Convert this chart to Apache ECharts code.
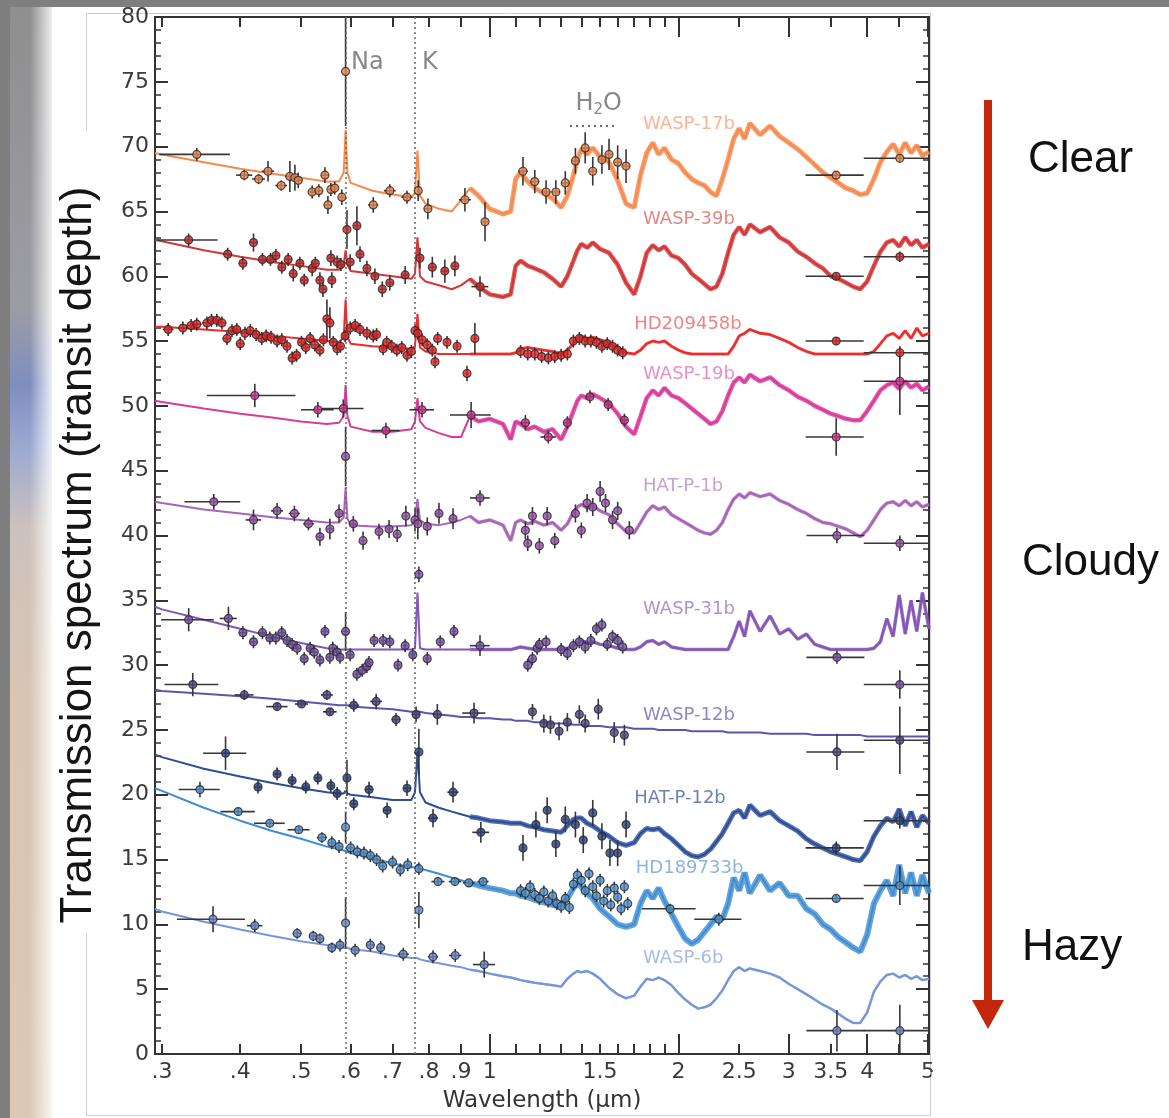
<!DOCTYPE html>
<html>
<head>
<meta charset="utf-8">
<script src="https://cdn.jsdelivr.net/npm/echarts@6.0.0/dist/echarts.min.js"></script>
<style>
  html, body { margin: 0; padding: 0; background: #ffffff; }
  #chart { width: 1169px; height: 1118px; }
</style>
</head>
<body>
<div id="chart"></div>
<script>
// ---------------------------------------------------------------
// Wavelength grid (µm) shared by every model transmission spectrum
// ---------------------------------------------------------------
const modelWave = [
  0.2925, 0.30, 0.35, 0.40, 0.45, 0.50, 0.55, 0.575, 0.585, 0.589, 0.593,
  0.60, 0.65, 0.70, 0.75, 0.76, 0.767, 0.774, 0.79, 0.83, 0.87, 0.90,
  0.93, 0.96, 1.00, 1.05, 1.08, 1.10, 1.12, 1.15, 1.18, 1.22, 1.26,
  1.30, 1.33, 1.36, 1.38, 1.40, 1.43, 1.46, 1.50, 1.55, 1.60, 1.65,
  1.70, 1.74, 1.78, 1.82, 1.86, 1.90, 1.95, 2.00, 2.05, 2.10, 2.15,
  2.20, 2.25, 2.30, 2.35, 2.40, 2.45, 2.50, 2.55, 2.60, 2.70, 2.80,
  2.90, 3.00, 3.10, 3.20, 3.30, 3.40, 3.50, 3.60, 3.70, 3.80, 3.90,
  4.00, 4.10, 4.20, 4.30, 4.40, 4.50, 4.60, 4.70, 4.80, 4.90, 5.02
];

// Model spectra (offset transit depth), one value per modelWave entry
const wasp17bModel = [
  69.5, 69.4, 68.8, 68.3, 67.9, 67.6, 67.3, 67.3, 68.0, 71.3, 68.0,
  67.2, 66.6, 66.3, 66.1, 66.4, 69.7, 66.2, 65.6, 65.2, 65.0, 65.9,
  66.8, 66.2, 65.2, 64.8, 65.0, 67.5, 68.0, 67.3, 66.8, 66.4, 66.0,
  65.3, 66.2, 67.8, 69.0, 69.8, 69.4, 69.9, 69.2, 68.8, 67.4, 65.6,
  65.3, 67.8, 69.5, 70.3, 69.4, 69.9, 69.0, 68.7, 68.0, 67.5, 67.2,
  67.0, 66.5, 66.2, 67.5, 69.0, 70.6, 71.4, 70.6, 71.8, 70.9, 71.6,
  70.8, 70.3, 69.8, 69.2, 68.6, 68.0, 67.6, 67.2, 66.8, 66.6, 66.3,
  66.4, 67.5, 68.8, 69.6, 70.2, 69.4, 70.3, 69.5, 70.1, 69.3, 69.6
];
const wasp39bModel = [
  62.8, 62.7, 62.0, 61.5, 61.1, 60.8, 60.5, 60.5, 60.9, 62.0, 60.9,
  60.4, 60.2, 60.0, 59.8, 60.2, 63.0, 60.0, 59.6, 59.3, 59.0, 59.3,
  59.8, 59.2, 58.6, 58.4, 58.6, 60.8, 61.2, 60.8, 60.6, 60.3, 59.8,
  59.2, 60.0, 61.2, 62.0, 62.5, 62.2, 62.6, 62.1, 61.8, 60.9, 59.5,
  58.6, 60.0, 61.8, 62.4, 62.0, 62.3, 61.6, 61.4, 60.9, 60.2, 59.8,
  59.4, 59.0, 59.2, 60.2, 61.8, 63.2, 63.8, 63.2, 64.0, 63.4, 63.8,
  63.0, 62.6, 61.9, 61.5, 61.0, 60.6, 60.0, 59.8, 59.5, 59.2, 59.0,
  59.6, 60.8, 61.9, 62.6, 62.8, 62.3, 63.0, 62.4, 62.8, 62.2, 62.5
];
const hd209458bModel = [
  56.1, 56.1, 55.9, 55.7, 55.4, 55.2, 55.0, 54.9, 55.3, 58.2, 55.3,
  54.8, 54.6, 54.5, 54.4, 54.6, 57.1, 54.5, 54.2, 54.0, 54.0, 54.0,
  54.0, 54.0, 54.0, 54.0, 54.0, 54.1, 54.4, 54.5, 54.4, 54.3, 54.2,
  54.0, 54.3, 54.8, 55.2, 55.4, 55.2, 55.3, 55.1, 54.9, 54.5, 54.1,
  54.0, 54.3, 54.8, 55.0, 54.9, 55.0, 54.6, 54.3, 54.1, 54.0, 54.0,
  54.0, 54.0, 54.0, 54.0, 54.0, 54.6, 55.4, 55.6, 55.9, 55.6, 55.5,
  55.2, 54.9, 54.5, 54.2, 54.0, 54.0, 54.0, 54.0, 54.0, 54.0, 54.0,
  54.0, 54.2, 54.8, 55.4, 55.6, 55.2, 55.8, 55.2, 56.0, 55.4, 55.6
];
const wasp19bModel = [
  50.4, 50.3, 49.8, 49.4, 49.1, 48.8, 48.6, 48.7, 49.2, 51.6, 49.2,
  48.4, 48.0, 48.0, 48.2, 48.8, 50.6, 48.8, 48.3, 47.9, 47.6, 47.6,
  49.2, 48.8, 49.0, 48.6, 47.4, 48.8, 48.6, 48.2, 48.4, 48.0, 48.2,
  47.4, 48.4, 49.6, 50.4, 50.8, 50.6, 50.9, 50.6, 50.2, 49.4, 48.4,
  47.8, 49.2, 50.6, 51.2, 50.8, 51.4, 50.8, 50.6, 50.2, 49.8, 49.4,
  49.0, 48.6, 48.8, 49.6, 50.8, 51.8, 52.2, 51.8, 52.4, 51.9, 52.2,
  51.6, 51.2, 50.7, 50.4, 50.0, 49.7, 49.4, 49.2, 49.0, 48.9, 48.9,
  49.6, 50.4, 51.2, 51.6, 51.8, 51.3, 51.9, 51.4, 51.7, 51.2, 51.5
];
const hatp1bModel = [
  42.6, 42.5, 42.0, 41.7, 41.4, 41.2, 41.0, 41.0, 41.4, 43.7, 41.3,
  40.8, 40.7, 40.7, 40.8, 41.2, 42.8, 41.2, 40.9, 40.8, 41.0, 41.2,
  41.5, 41.0, 41.2, 40.8, 39.6, 41.0, 41.2, 40.9, 41.1, 40.8, 41.0,
  40.4, 40.9, 41.8, 42.2, 42.4, 42.1, 42.3, 41.9, 41.6, 40.9, 40.3,
  40.2, 41.0, 41.8, 42.3, 42.0, 42.2, 41.6, 41.3, 41.0, 40.7, 40.4,
  40.2, 40.1, 40.4, 41.0, 42.0, 42.8, 43.2, 42.9, 43.3, 43.0, 43.2,
  42.7, 42.4, 42.0, 41.7, 41.3, 41.0, 40.9, 40.7, 40.5, 40.2, 39.9,
  40.4, 41.2, 42.0, 42.5, 42.6, 42.3, 42.7, 42.3, 42.6, 42.2, 42.4
];
const wasp31bModel = [
  34.5, 34.3, 33.5, 32.8, 32.2, 31.7, 31.3, 31.2, 31.2, 31.2, 31.2,
  31.2, 31.2, 31.2, 31.2, 31.3, 35.6, 31.3, 31.2, 31.2, 31.2, 31.2,
  31.2, 31.2, 31.2, 31.2, 31.2, 31.3, 31.4, 31.3, 31.2, 31.2, 31.2,
  31.2, 31.3, 31.5, 31.7, 31.9, 31.7, 31.8, 31.6, 31.5, 31.3, 31.2,
  31.2, 31.4, 31.8, 31.9, 31.6, 31.8, 31.4, 31.3, 31.2, 31.2, 31.2,
  31.2, 31.2, 31.2, 31.2, 31.2, 32.2, 33.4, 32.2, 34.2, 32.6, 33.8,
  32.4, 32.8, 32.0, 32.4, 31.6, 31.4, 31.2, 31.2, 31.2, 31.2, 31.2,
  31.2, 31.3, 31.8, 33.6, 32.2, 35.4, 32.4, 35.0, 32.6, 35.6, 32.8
];
const wasp12bModel = [
  28.1, 28.0, 27.8, 27.6, 27.4, 27.2, 27.0, 26.9, 26.9, 26.9, 26.9,
  26.8, 26.7, 26.6, 26.4, 26.4, 26.4, 26.4, 26.3, 26.2, 26.1, 26.0,
  26.0, 25.9, 25.9, 25.8, 25.8, 25.7, 25.7, 25.7, 25.6, 25.6, 25.5,
  25.5, 25.5, 25.4, 25.4, 25.4, 25.3, 25.3, 25.3, 25.2, 25.2, 25.2,
  25.1, 25.1, 25.1, 25.1, 25.0, 25.0, 25.0, 25.0, 25.0, 24.9, 24.9,
  24.9, 24.9, 24.9, 24.9, 24.8, 24.8, 24.8, 24.8, 24.8, 24.8, 24.7,
  24.7, 24.7, 24.7, 24.7, 24.6, 24.6, 24.6, 24.6, 24.6, 24.6, 24.6,
  24.5, 24.5, 24.5, 24.5, 24.5, 24.5, 24.5, 24.5, 24.5, 24.5, 24.5
];
const hatp12bModel = [
  23.1, 22.9, 22.0, 21.4, 20.9, 20.5, 20.2, 20.1, 20.1, 20.3, 20.1,
  20.0, 19.8, 19.6, 19.6, 20.2, 23.3, 20.2, 19.4, 19.0, 18.7, 18.5,
  18.3, 18.2, 18.0, 17.9, 17.8, 17.8, 17.8, 17.6, 17.5, 17.3, 17.2,
  17.1, 17.6, 18.1, 18.2, 18.2, 17.8, 17.6, 17.2, 16.8, 16.3, 16.1,
  16.3, 17.0, 17.4, 17.3, 17.4, 17.0, 16.6, 16.1, 15.6, 15.3, 15.2,
  15.4, 15.8, 16.4, 17.0, 17.8, 18.6, 18.8, 18.2, 19.2, 18.4, 18.7,
  18.0, 17.6, 17.2, 16.6, 16.2, 15.9, 15.6, 15.4, 15.2, 15.0, 14.9,
  15.6, 16.8, 17.6, 18.2, 17.9, 18.9, 17.6, 18.7, 17.5, 18.4, 17.8
];
const hd189733bModel = [
  20.5, 20.3, 19.0, 18.0, 17.2, 16.6, 16.0, 15.8, 15.7, 15.8, 15.6,
  15.5, 15.1, 14.7, 14.4, 14.4, 14.6, 14.3, 14.2, 13.9, 13.6, 13.4,
  13.2, 13.0, 12.8, 12.6, 12.4, 12.4, 12.2, 12.1, 11.9, 11.7, 11.5,
  11.4, 12.0, 12.8, 13.2, 12.9, 12.4, 12.0, 11.2, 10.6, 10.0, 9.8,
  10.0, 11.6, 12.6, 12.0, 12.8, 11.8, 10.8, 9.8, 8.9, 8.5, 8.8,
  9.4, 10.0, 10.6, 10.4, 11.6, 13.6, 12.6, 14.0, 12.4, 13.8, 12.6,
  13.2, 12.2, 12.2, 11.2, 10.8, 10.0, 9.6, 9.0, 8.6, 8.2, 7.9,
  9.2, 11.6, 12.6, 13.4, 12.2, 14.6, 12.4, 14.0, 12.2, 13.8, 12.4
];
const wasp6bModel = [
  11.2, 11.0, 10.2, 9.6, 9.1, 8.7, 8.4, 8.3, 8.2, 8.2, 8.2,
  8.1, 7.9, 7.6, 7.4, 7.4, 7.4, 7.3, 7.2, 7.0, 6.8, 6.7,
  6.5, 6.4, 6.2, 6.0, 5.9, 5.8, 5.7, 5.6, 5.5, 5.4, 5.3,
  5.2, 5.8, 6.2, 6.4, 6.3, 6.4, 6.2, 5.8, 5.1, 4.6, 4.3,
  4.5, 5.2, 5.8, 5.7, 5.9, 5.7, 5.3, 4.7, 4.2, 3.8, 3.5,
  3.6, 3.8, 4.3, 4.9, 5.7, 6.4, 6.7, 6.4, 6.6, 6.4, 6.2,
  5.9, 5.4, 5.0, 4.6, 4.2, 3.8, 3.5, 3.1, 2.7, 2.4, 2.4,
  3.2, 4.8, 5.6, 6.1, 6.2, 5.9, 6.1, 5.8, 6.0, 5.7, 5.8
];

// Measurements: [wavelength µm, depth, depth error, half bin width µm]
// (error / half width fall back to defaults when omitted)
const wasp17bObs = [
  [0.341, 69.4, 0.5, 0.044], [0.406, 67.8, 0.4, 0.012], [0.428, 67.5, 0.4, 0.01],
  [0.443, 68.1, 0.8, 0.01], [0.465, 67.0, 0.4, 0.01], [0.480, 67.7, 1.2, 0.008],
  [0.489, 67.6, 1.0, 0.008], [0.495, 67.4, 0.6, 0.008], [0.521, 66.5, 0.5, 0.008],
  [0.534, 66.6, 0.5, 0.008], [0.546, 67.8, 0.6, 0.008], [0.552, 65.5, 0.7, 0.008],
  [0.558, 66.7, 0.5, 0.006], [0.566, 66.8, 0.5, 0.006], [0.581, 66.1, 0.6, 0.006],
  [0.589, 75.8, 4.2, 0.002], [0.652, 65.5, 0.6, 0.012], [0.693, 66.6, 0.5, 0.015],
  [0.738, 66.1, 0.5, 0.015], [0.769, 66.6, 0.8, 0.004], [0.797, 65.2, 0.8, 0.012],
  [0.913, 65.9, 0.9, 0.02], [0.983, 64.2, 1.5, 0.01], [1.13, 68.1, 1.1, 0.02],
  [1.18, 67.3, 0.9, 0.02], [1.23, 66.5, 0.9, 0.02], [1.275, 66.5, 0.9, 0.02],
  [1.32, 67.2, 0.9, 0.02], [1.37, 68.9, 1.0, 0.02], [1.42, 69.9, 1.2, 0.02],
  [1.46, 68.1, 1.1, 0.02], [1.51, 69.0, 1.1, 0.02], [1.55, 69.4, 1.2, 0.02],
  [1.60, 68.8, 1.3, 0.02], [1.65, 68.5, 1.3, 0.02],
  [3.57, 67.8, 0.3, 0.38], [4.51, 69.1, 0.3, 0.56]
];
const wasp39bObs = [
  [0.331, 62.8, 0.5, 0.037], [0.382, 61.7], [0.404, 61.0], [0.420, 62.6, 0.7],
  [0.434, 61.3], [0.447, 61.3], [0.456, 61.6], [0.466, 60.7], [0.477, 61.3],
  [0.486, 60.2, 0.6], [0.498, 61.0], [0.506, 59.7], [0.521, 60.6, 0.6], [0.527, 61.0],
  [0.536, 59.7, 0.6], [0.542, 59.0, 0.6], [0.558, 61.4, 0.6], [0.560, 59.7, 0.6],
  [0.571, 61.1], [0.579, 60.9], [0.592, 63.6, 1.5, 0.003], [0.599, 61.1, 0.6],
  [0.614, 63.9, 1.5], [0.621, 61.7, 0.6], [0.637, 60.6, 0.6], [0.656, 60.0, 0.6],
  [0.674, 59.0, 0.6], [0.693, 59.5, 0.6, 0.008], [0.733, 60.1, 0.7, 0.008],
  [0.774, 61.4, 0.8], [0.810, 60.7, 0.8, 0.008], [0.848, 60.4, 0.9, 0.01],
  [0.880, 60.8, 0.8, 0.01], [0.965, 59.2, 0.8, 0.03],
  [3.57, 60.0, 0.3, 0.38], [4.51, 61.5, 0.4, 0.56]
];
const hd209458bObs = [
  [0.307, 55.9], [0.324, 56.0], [0.334, 56.2], [0.341, 56.3], [0.354, 56.4],
  [0.360, 56.6], [0.367, 56.6], [0.374, 56.4], [0.381, 55.2], [0.388, 55.8],
  [0.395, 55.9], [0.400, 54.8], [0.407, 55.6], [0.415, 55.8], [0.424, 55.5],
  [0.433, 55.2], [0.440, 55.4], [0.448, 55.3], [0.458, 55.0], [0.466, 55.1],
  [0.475, 54.6], [0.484, 53.7], [0.492, 53.9], [0.501, 54.9], [0.509, 54.5],
  [0.517, 55.2], [0.526, 54.7], [0.536, 54.3], [0.543, 55.1], [0.550, 56.7, 1.5],
  [0.556, 56.4, 1.2], [0.563, 54.9], [0.571, 54.4], [0.578, 54.6], [0.588, 55.4],
  [0.599, 56.0], [0.610, 56.2], [0.621, 55.9], [0.637, 55.6], [0.652, 55.4],
  [0.660, 55.5], [0.676, 54.4], [0.685, 54.9], [0.698, 54.6], [0.711, 54.3],
  [0.724, 54.5], [0.738, 53.9], [0.750, 54.2], [0.760, 55.8], [0.768, 55.6],
  [0.780, 55.1], [0.795, 54.7], [0.810, 54.3], [0.818, 53.4], [0.826, 55.2],
  [0.855, 54.9], [0.887, 54.6], [0.920, 52.5, 0.6], [0.947, 55.2, 1.2],
  [1.12, 54.2], [1.15, 54.0], [1.18, 54.0], [1.21, 53.8], [1.24, 53.7],
  [1.27, 53.8], [1.30, 53.9], [1.33, 54.0], [1.36, 55.0], [1.39, 55.2],
  [1.42, 55.0], [1.45, 55.0], [1.48, 54.9], [1.51, 54.6], [1.54, 54.8],
  [1.57, 54.6], [1.60, 54.3], [1.63, 54.1],
  [3.57, 55.0, 0.3, 0.38], [4.51, 54.1, 0.5, 0.56]
];
const wasp19bObs = [
  [0.422, 50.8, 0.9, 0.068], [0.532, 49.7, 0.6, 0.032], [0.584, 49.8, 0.7, 0.045],
  [0.683, 48.1, 0.6, 0.035], [0.780, 49.7, 0.6, 0.035], [0.934, 49.3, 1.0, 0.07],
  [1.14, 48.7, 0.6, 0.02], [1.24, 47.6, 0.5, 0.035], [1.33, 48.7, 0.5, 0.02],
  [1.445, 50.7, 0.5, 0.02], [1.545, 50.1, 0.5, 0.02], [1.64, 48.9, 0.5, 0.02],
  [3.57, 47.6, 1.45, 0.38], [4.51, 51.9, 2.6, 0.56]
];
const hatp1bObs = [
  [0.363, 42.6, 0.6, 0.037], [0.420, 41.2, 0.8, 0.012], [0.458, 41.9, 0.6, 0.01],
  [0.488, 41.7, 0.6, 0.01], [0.514, 40.9, 0.5, 0.01], [0.536, 39.9, 0.7],
  [0.556, 40.5, 0.8], [0.575, 41.7, 0.7], [0.589, 46.1, 2.3, 0.003],
  [0.606, 40.9, 0.6], [0.628, 39.6, 0.7], [0.666, 40.3, 0.6], [0.691, 40.5, 0.7],
  [0.712, 40.1, 0.6], [0.735, 41.5, 0.8], [0.760, 41.2, 0.9, 0.006],
  [0.768, 40.9, 1.2, 0.004], [0.795, 40.7, 0.7], [0.830, 41.7, 0.8, 0.01],
  [0.874, 41.3, 0.8, 0.01], [0.965, 42.9, 0.6, 0.035],
  [1.14, 40.4, 0.7], [1.15, 39.4, 0.6], [1.17, 41.5, 0.7], [1.20, 39.2, 0.6],
  [1.235, 41.5, 0.7], [1.27, 39.6, 0.6], [1.37, 41.7, 0.7], [1.40, 40.4, 0.6],
  [1.43, 42.5, 0.7], [1.46, 42.2, 0.7], [1.50, 43.4, 0.8], [1.53, 42.5, 0.7],
  [1.57, 41.2, 0.7], [1.60, 41.9, 0.7], [1.67, 40.4, 0.7],
  [3.58, 40.0, 0.6, 0.38], [4.51, 39.4, 0.6, 0.56]
];
const wasp31bObs = [
  [0.331, 33.5, 0.9, 0.032], [0.383, 33.6, 0.9, 0.012], [0.404, 32.5], [0.420, 31.8],
  [0.434, 32.5], [0.446, 32.1], [0.456, 32.1], [0.466, 32.5], [0.475, 31.9],
  [0.484, 31.6], [0.493, 31.3], [0.506, 30.5], [0.517, 31.3], [0.525, 31.0],
  [0.536, 30.4], [0.546, 32.6], [0.556, 30.6], [0.562, 31.3], [0.571, 31.0],
  [0.577, 30.6], [0.589, 32.6, 1.5], [0.599, 30.8], [0.614, 29.3], [0.626, 29.6],
  [0.637, 29.9], [0.642, 30.2], [0.654, 31.9], [0.676, 31.9], [0.693, 31.8],
  [0.714, 30.0], [0.733, 31.5], [0.754, 30.8], [0.771, 37.0, 0.6, 0.003],
  [0.795, 30.5], [0.834, 31.8], [0.877, 32.6], [0.965, 31.5, 0.8, 0.035],
  [1.15, 30.0], [1.17, 30.5], [1.19, 31.3], [1.20, 31.6], [1.23, 31.8],
  [1.30, 31.2], [1.33, 30.9], [1.36, 31.5], [1.39, 31.8], [1.42, 31.4],
  [1.45, 31.9], [1.48, 32.8], [1.51, 33.1], [1.54, 31.6], [1.57, 32.2],
  [1.60, 31.9], [1.63, 31.4],
  [3.58, 30.6, 0.5, 0.38], [4.51, 28.5, 1.1, 0.56]
];
const wasp12bObs = [
  [0.336, 28.5, 0.9, 0.033], [0.406, 27.7, 0.4, 0.014], [0.458, 26.8, 0.3, 0.018],
  [0.501, 27.0, 0.3, 0.012], [0.550, 27.7, 0.4, 0.012], [0.556, 26.4, 0.3, 0.014],
  [0.607, 26.9, 0.5, 0.012], [0.659, 27.2, 0.6, 0.014], [0.709, 25.8, 0.5, 0.012],
  [0.763, 26.2, 0.6, 0.012], [0.825, 26.2, 0.8, 0.014], [0.944, 26.3, 0.8, 0.04],
  [1.17, 26.4, 0.6], [1.22, 25.5, 0.7], [1.25, 25.4, 0.7], [1.29, 24.9, 0.7],
  [1.33, 25.6, 0.7], [1.39, 26.2, 0.7], [1.42, 25.5, 0.7], [1.49, 26.6, 0.8],
  [1.58, 24.8, 0.8], [1.64, 24.6, 0.8],
  [3.58, 23.3, 1.4, 0.38], [4.51, 24.2, 2.6, 0.56]
];
const hatp12bObs = [
  [0.379, 23.2, 1.3, 0.03], [0.427, 20.6], [0.458, 21.6], [0.484, 21.1],
  [0.509, 20.6], [0.532, 21.3], [0.558, 20.7], [0.571, 20.1], [0.592, 21.3, 1.4, 0.004],
  [0.607, 19.3], [0.642, 20.4, 0.6, 0.01], [0.686, 18.8, 0.6, 0.01],
  [0.738, 20.5, 0.6, 0.01], [0.771, 23.3, 1.8, 0.003], [0.812, 18.2, 0.7, 0.015],
  [0.874, 20.2, 0.8, 0.018], [0.968, 17.1, 0.8, 0.03],
  [1.13, 15.9, 1.0], [1.185, 17.7, 1.0], [1.235, 18.8, 1.0], [1.275, 16.2, 1.0],
  [1.32, 18.1, 1.0], [1.37, 17.7, 1.0], [1.41, 16.5, 1.0], [1.46, 18.6, 1.0],
  [1.51, 16.8, 1.0], [1.555, 15.5, 1.0], [1.60, 15.5, 1.0], [1.65, 17.7, 1.0],
  [3.57, 15.9, 0.5, 0.38], [4.51, 18.0, 0.6, 0.56]
];
const hd189733bObs = [
  [0.345, 20.4, 0.6, 0.026], [0.397, 18.7, 0.3, 0.025], [0.446, 17.8, 0.3, 0.025],
  [0.496, 17.3, 0.3, 0.02], [0.540, 16.7, 0.4, 0.01], [0.560, 16.3], [0.575, 16.0],
  [0.589, 17.5, 1.2, 0.002], [0.600, 15.9], [0.615, 15.6], [0.630, 15.5],
  [0.645, 15.3], [0.660, 15.0], [0.675, 14.5], [0.700, 14.8], [0.720, 14.2],
  [0.740, 14.6], [0.771, 14.3], [0.827, 13.3, 0.3, 0.02], [0.880, 13.3, 0.3, 0.02],
  [0.926, 13.2, 0.3, 0.02], [0.976, 13.3, 0.3, 0.02],
  [1.12, 12.6], [1.14, 12.4], [1.16, 12.9], [1.18, 12.3], [1.20, 12.0],
  [1.22, 12.5], [1.24, 11.8], [1.26, 12.2], [1.28, 11.6], [1.30, 11.4],
  [1.32, 12.0], [1.34, 11.3], [1.36, 13.1], [1.38, 13.8], [1.40, 13.4],
  [1.42, 12.6], [1.44, 13.9], [1.46, 12.9], [1.48, 12.2], [1.50, 13.4],
  [1.52, 11.8], [1.54, 12.6], [1.56, 11.5], [1.58, 12.8], [1.60, 12.1],
  [1.62, 11.2], [1.64, 12.9], [1.66, 11.6],
  [1.94, 11.2, 0.4, 0.19], [2.32, 10.4, 0.5, 0.2],
  [3.57, 12.0, 0.3, 0.38], [4.51, 13.0, 1.5, 0.56]
];
const wasp6bObs = [
  [0.362, 10.4, 1.0, 0.045], [0.422, 9.9, 0.5, 0.012], [0.493, 9.3, 0.4, 0.008],
  [0.523, 9.1, 0.4, 0.008], [0.536, 8.9, 0.4, 0.008], [0.560, 8.2, 0.4, 0.008],
  [0.577, 8.4, 0.5, 0.006], [0.589, 10.1, 2.0, 0.002], [0.610, 8.0, 0.5, 0.008],
  [0.645, 8.4, 0.5, 0.01], [0.670, 8.2, 0.5, 0.01], [0.728, 7.7, 0.5, 0.015],
  [0.771, 11.1, 1.4, 0.002], [0.812, 7.5, 0.5, 0.015], [0.881, 7.6, 0.5, 0.02],
  [0.980, 6.9, 1.0, 0.04],
  [3.58, 1.8, 1.6, 0.38], [4.51, 1.8, 2.0, 0.56]
];

// Axis ticks
const xTickValues = [0.3, 0.4, 0.5, 0.6, 0.7, 0.8, 0.9, 1, 1.5, 2, 2.5, 3, 3.5, 4, 5];
const xTickLabels = ['.3', '.4', '.5', '.6', '.7', '.8', '.9', '1', '1.5', '2', '2.5', '3', '3.5', '4', '5'];
const xMajorTicks = [1, 2, 3, 4, 5];
const xMinorTicks = [0.3, 0.4, 0.5, 0.6, 0.7, 0.8, 0.9, 1.1, 1.2, 1.3, 1.4, 1.5,
                     1.6, 1.7, 1.8, 1.9, 2.5, 3.5, 4.5];
const waveRange = [0.2925, 5.02];
const depthRange = [0, 80];

// Spectral features
const lineNames = ['Na', 'K'];
const lineWaves = [0.589, 0.767];
const waterBand = [1.343, 1.584];

// Planet names and the cloud-regime scale on the right
const planetNames = ['WASP-17b', 'WASP-39b', 'HD209458b', 'WASP-19b', 'HAT-P-1b',
                     'WASP-31b', 'WASP-12b', 'HAT-P-12b', 'HD189733b', 'WASP-6b'];
const regimeLabels = ['Clear', 'Cloudy', 'Hazy'];

// ---------------------------------------------------------------
const L = Math.log10;
const LMIN = L(waveRange[0]);
const LMAX = L(waveRange[1]);
const BAND_START = 22;   // modelWave index (0.93 µm) where the molecular bands begin

// band: width of the stroke that renders the dense line-by-line structure
const planets = [
  { model: wasp17bModel,   obs: wasp17bObs,   line: '#f58a4c', fill: '#e9834c', text: '#f4a27a', band: 5, tag: [1.756, 71.7] },
  { model: wasp39bModel,   obs: wasp39bObs,   line: '#d23636', fill: '#c4282c', text: '#d86868', band: 4.5, tag: [1.756, 64.4] },
  { model: hd209458bModel, obs: hd209458bObs, line: '#f02a2a', fill: '#e42424', text: '#ec6464', band: 3, tag: [1.700, 56.3] },
  { model: wasp19bModel,   obs: wasp19bObs,   line: '#d93a9c', fill: '#c8308c', text: '#de74bc', band: 4.5, tag: [1.756, 52.4] },
  { model: hatp1bModel,    obs: hatp1bObs,    line: '#a865b8', fill: '#9650a6', text: '#b68ac8', band: 3.5, tag: [1.756, 43.8] },
  { model: wasp31bModel,   obs: wasp31bObs,   line: '#8456b8', fill: '#7050a2', text: '#9878c6', band: 3.5, tag: [1.756, 34.3] },
  { model: wasp12bModel,   obs: wasp12bObs,   line: '#5a56ad', fill: '#484480', text: '#6e6ab6', band: 0, tag: [1.756, 26.1] },
  { model: hatp12bModel,   obs: hatp12bObs,   line: '#2c4e98', fill: '#283e76', text: '#4a62a0', band: 5, tag: [1.700, 19.7] },
  { model: hd189733bModel, obs: hd189733bObs, line: '#3f8dd3', fill: '#4c8ecc', text: '#6ea2d4', band: 6, tag: [1.710, 14.3] },
  { model: wasp6bModel,    obs: wasp6bObs,    line: '#7596da', fill: '#6884c6', text: '#92aade', band: 2.5, tag: [1.756, 7.4] }
];

const ERR_COLOR = '#363636';
const AXIS_COLOR = '#333333';
const FIG_FONT = 'DejaVu Sans';

function obsRows(obs) {
  return obs.map(o => {
    const w = o[0], v = o[1];
    const e = o[2] != null ? o[2] : 0.5;
    const h = o[3] != null ? o[3] : 0.006;
    return [L(w), v, e, Math.max(L(Math.max(w - h, 0.01)), LMIN), Math.min(L(w + h), LMAX)];
  });
}

function renderErrorBar(params, api) {
  const x = api.value(0), y = api.value(1), e = api.value(2);
  const lo = api.value(3), hi = api.value(4);
  const top = Math.min(y + e, depthRange[1]), bot = Math.max(y - e, depthRange[0]);
  const a = api.coord([lo, y]), b = api.coord([hi, y]);
  const c = api.coord([x, bot]), d = api.coord([x, top]);
  const style = { stroke: ERR_COLOR, lineWidth: 1.6 };
  return {
    type: 'group',
    children: [
      { type: 'line', shape: { x1: a[0], y1: a[1], x2: b[0], y2: b[1] }, style: style },
      { type: 'line', shape: { x1: c[0], y1: c[1], x2: d[0], y2: d[1] }, style: style }
    ]
  };
}

const series = [];

// Na and K reference lines
series.push({
  type: 'line', data: [], silent: true, z: 1,
  markLine: {
    silent: true, symbol: 'none', animation: false,
    label: { show: false },
    lineStyle: { color: '#6a6a6a', type: [2, 3], width: 1.5 },
    data: lineWaves.map(w => ({ xAxis: L(w) }))
  }
});

planets.forEach((p, i) => {
  if (p.band > 0) {
    series.push({
      name: planetNames[i] + ' bands',
      type: 'line', silent: true, z: 2,
      showSymbol: false, symbol: 'none',
      lineStyle: { color: p.line, width: p.band, opacity: 0.8, join: 'bevel' },
      data: modelWave.slice(BAND_START).map((w, k) => [L(w), p.model[k + BAND_START]])
    });
  }
  series.push({
    name: planetNames[i] + ' model',
    type: 'line', silent: true, z: 3,
    showSymbol: false, symbol: 'none',
    lineStyle: { color: p.line, width: 2 },
    data: modelWave.map((w, k) => [L(w), p.model[k]])
  });
});

planets.forEach((p, i) => {
  const rows = obsRows(p.obs);
  series.push({
    name: planetNames[i] + ' errors',
    type: 'custom', silent: true, z: 4,
    renderItem: renderErrorBar,
    encode: { x: 0, y: 1 },
    data: rows
  });
  series.push({
    name: planetNames[i] + ' data',
    type: 'scatter', silent: true, z: 5,
    symbol: 'circle', symbolSize: 8,
    itemStyle: { color: p.fill, borderColor: '#2a2a2a', borderWidth: 1.2 },
    data: rows.map(r => [r[0], r[1]])
  });
});

// Planet name tags
series.push({
  type: 'scatter', silent: true, z: 6, symbolSize: 0,
  label: {
    show: true, position: 'right', distance: 0, formatter: '{b}',
    fontFamily: FIG_FONT, fontSize: 18
  },
  data: planets.map((p, i) => ({
    name: planetNames[i],
    value: [L(p.tag[0]), p.tag[1]],
    label: { color: p.text }
  }))
});

// Feature labels (Na, K, H2O) and the H2O band marker
series.push({
  type: 'scatter', silent: true, z: 6, symbolSize: 0,
  label: {
    show: true, position: 'right', distance: 0, color: '#6a6a6a',
    fontFamily: FIG_FONT, fontSize: 24, formatter: '{b}',
    rich: { sub: { fontSize: 15, color: '#6a6a6a', fontFamily: FIG_FONT, padding: [12, 0, 0, 0] } }
  },
  data: [
    { name: lineNames[0], value: [L(0.601), 76.5] },
    { name: lineNames[1], value: [L(0.780), 76.5] },
    { name: 'H{sub|2}O', value: [L(1.37), 73.3] }
  ]
});
series.push({
  type: 'line', data: [], silent: true, z: 3,
  markLine: {
    silent: true, symbol: 'none', animation: false,
    label: { show: false },
    lineStyle: { color: '#6a6a6a', type: [2, 4], width: 2 },
    data: [[{ coord: [L(waterBand[0]), 71.6] }, { coord: [L(waterBand[1]), 71.6] }]]
  }
});

function xLabel(v) {
  const w = Math.pow(10, v);
  let best = 0;
  xTickValues.forEach((t, k) => {
    if (Math.abs(t - w) < Math.abs(xTickValues[best] - w)) best = k;
  });
  return xTickLabels[best];
}

function xAxisDef(pos, ticks, len, withLine, withLabels) {
  return {
    type: 'value', position: pos, min: LMIN, max: LMAX,
    splitLine: { show: false },
    axisLine: { show: withLine, onZero: false, lineStyle: { color: AXIS_COLOR, width: 2 } },
    axisTick: {
      show: true, inside: true, length: len,
      customValues: ticks.map(L),
      lineStyle: { color: AXIS_COLOR, width: 2 }
    },
    axisLabel: withLabels ? {
      show: true, customValues: xTickValues.map(L), formatter: xLabel,
      fontFamily: FIG_FONT, fontSize: 22, color: '#3a3a3a', margin: 7
    } : { show: false },
    name: withLabels ? 'Wavelength (μm)' : '',
    nameLocation: 'middle', nameGap: 36,
    nameTextStyle: { fontFamily: FIG_FONT, fontSize: 23, color: '#333' }
  };
}

function yAxisDef(pos, withLabels) {
  return {
    type: 'value', position: pos, min: depthRange[0], max: depthRange[1], interval: 5,
    splitLine: { show: false },
    axisLine: { show: true, onZero: false, lineStyle: { color: AXIS_COLOR, width: 2 } },
    axisTick: { show: true, inside: true, length: 13, lineStyle: { color: AXIS_COLOR, width: 2 } },
    minorTick: { show: true, splitNumber: 5, length: 6, lineStyle: { color: AXIS_COLOR, width: 1.5 } },
    axisLabel: withLabels ? {
      show: true, fontFamily: FIG_FONT, fontSize: 22, color: '#3a3a3a', margin: 6
    } : { show: false }
  };
}

const chart = echarts.init(document.getElementById('chart'), null, { renderer: 'canvas' });

const LABEL_FONT = '44px "Liberation Sans", Arial, sans-serif';

const option = {
  animation: false,
  backgroundColor: '#ffffff',
  grid: { left: 155, top: 17, width: 774, height: 1050, containLabel: false },
  xAxis: [
    xAxisDef('bottom', xMajorTicks, 20, true, true),
    xAxisDef('bottom', xMinorTicks, 10, false, false),
    xAxisDef('top', xMajorTicks, 20, true, false),
    xAxisDef('top', xMinorTicks, 10, false, false)
  ],
  yAxis: [yAxisDef('left', true), yAxisDef('right', false)],
  graphic: [
    // slide backdrop
    { type: 'rect', z: -20, shape: { x: 0, y: 0, width: 1169, height: 7 }, style: { fill: '#7f7f7f' } },
    { type: 'rect', z: -20, shape: { x: 0, y: 0, width: 10, height: 1118 }, style: { fill: '#7f7f7f' } },
    {
      type: 'rect', z: -19, shape: { x: 10, y: 7, width: 42, height: 1111 },
      style: {
        fill: {
          type: 'linear', x: 0, y: 0, x2: 0, y2: 1,
          colorStops: [
            { offset: 0, color: '#8f8f8f' }, { offset: 0.27, color: '#9c9ca4' },
            { offset: 0.34, color: '#7e8ec0' }, { offset: 0.40, color: '#9eaad0' },
            { offset: 0.47, color: '#cdc2bd' }, { offset: 0.62, color: '#d8c5b3' },
            { offset: 1, color: '#dcc8b6' }
          ]
        }
      }
    },
    {
      type: 'rect', z: -18, shape: { x: 30, y: 7, width: 26, height: 1111 },
      style: {
        fill: {
          type: 'linear', x: 0, y: 0, x2: 1, y2: 0,
          colorStops: [{ offset: 0, color: 'rgba(255,255,255,0)' }, { offset: 1, color: '#ffffff' }]
        }
      }
    },
    // figure frame
    { type: 'rect', z: -17, shape: { x: 86.5, y: 13.5, width: 844, height: 1102 }, style: { fill: '#ffffff', stroke: '#cfcfcf', lineWidth: 1 } },
    { type: 'rect', z: -16, shape: { x: 82, y: 130, width: 9, height: 803 }, style: { fill: '#ffffff' } },
    // right edge of the figure trims the last tick label
    { type: 'rect', z: 100, shape: { x: 931.5, y: 1072, width: 20, height: 30 }, style: { fill: '#ffffff' } },
    // y-axis title
    {
      type: 'text', z: 10, x: 79, y: 555, rotation: Math.PI / 2,
      style: {
        text: 'Transmission spectrum (transit depth)',
        font: LABEL_FONT, fill: '#151515', textAlign: 'center', textVerticalAlign: 'middle'
      }
    },
    // cloud regime arrow and labels
    { type: 'line', z: 10, shape: { x1: 988, y1: 100, x2: 988, y2: 1002 }, style: { stroke: '#c4260c', lineWidth: 8 } },
    { type: 'polygon', z: 10, shape: { points: [[972, 1000], [1004, 1000], [988, 1029]] }, style: { fill: '#c4260c' } },
    { type: 'text', z: 10, x: 1028, y: 160, style: { text: regimeLabels[0], font: LABEL_FONT, fill: '#111', textVerticalAlign: 'middle' } },
    { type: 'text', z: 10, x: 1022, y: 563, style: { text: regimeLabels[1], font: LABEL_FONT, fill: '#111', textVerticalAlign: 'middle' } },
    { type: 'text', z: 10, x: 1022, y: 948, style: { text: regimeLabels[2], font: LABEL_FONT, fill: '#111', textVerticalAlign: 'middle' } }
  ],
  series: series
};

chart.setOption(option);
</script>
</body>
</html>
